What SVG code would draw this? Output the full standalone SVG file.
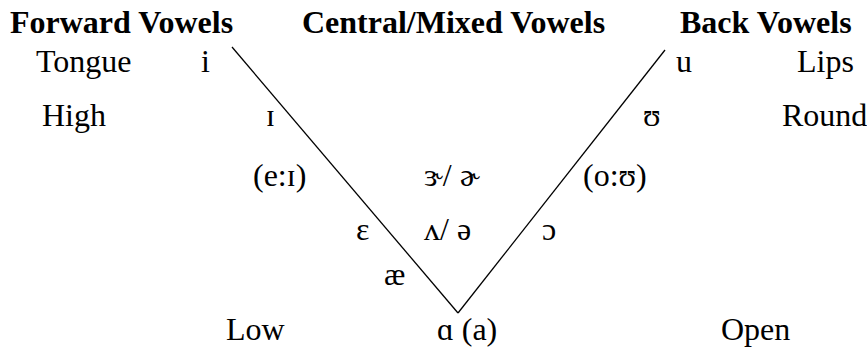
<svg xmlns="http://www.w3.org/2000/svg" width="867" height="354" viewBox="0 0 867 354">
<style>
text{font-family:"Liberation Serif","DejaVu Serif",serif;font-size:32px;fill:#000}
.h{font-weight:bold}
.ln{stroke:#000;stroke-width:1.3;fill:none}
</style>
<rect width="867" height="354" fill="#fff"/>
<g id="connectors">
<line class="ln" x1="232" y1="47" x2="458" y2="313"/>
<line class="ln" x1="458" y1="313" x2="665" y2="50"/>
</g>
<g id="hdr-forward"><text class="h" x="10" y="33">Forward Vowels</text></g>
<g id="hdr-central"><text class="h" x="302" y="33">Central/Mixed Vowels</text></g>
<g id="hdr-back"><text class="h" x="680" y="33">Back Vowels</text></g>
<g id="lbl-tongue"><text x="36" y="72">Tongue</text></g>
<g id="v-i"><text x="201" y="72">i</text></g>
<g id="v-u"><text x="676" y="72">u</text></g>
<g id="lbl-lips"><text x="797" y="72">Lips</text></g>
<g id="lbl-high"><text x="42" y="126">High</text></g>
<g id="v-I"><text x="266" y="126">ɪ</text></g>
<g id="v-U"><text x="643" y="126">ʊ</text></g>
<g id="lbl-round"><text x="782" y="126">Round</text></g>
<g id="v-eI"><text x="253" y="186">(e:ɪ)</text></g>
<g id="v-er"><text x="424" y="186">ɝ/ ɚ</text></g>
<g id="v-oU"><text x="583" y="186">(o:ʊ)</text></g>
<g id="v-E"><text x="356" y="240">ɛ</text></g>
<g id="v-schwa"><text x="424" y="240">ʌ/ ə</text></g>
<g id="v-O"><text x="542" y="240">ɔ</text></g>
<g id="v-ae"><text x="384" y="285">æ</text></g>
<g id="lbl-low"><text x="226" y="340">Low</text></g>
<g id="v-a"><text x="437" y="340">ɑ (a)</text></g>
<g id="lbl-open"><text x="721" y="340">Open</text></g>
</svg>
